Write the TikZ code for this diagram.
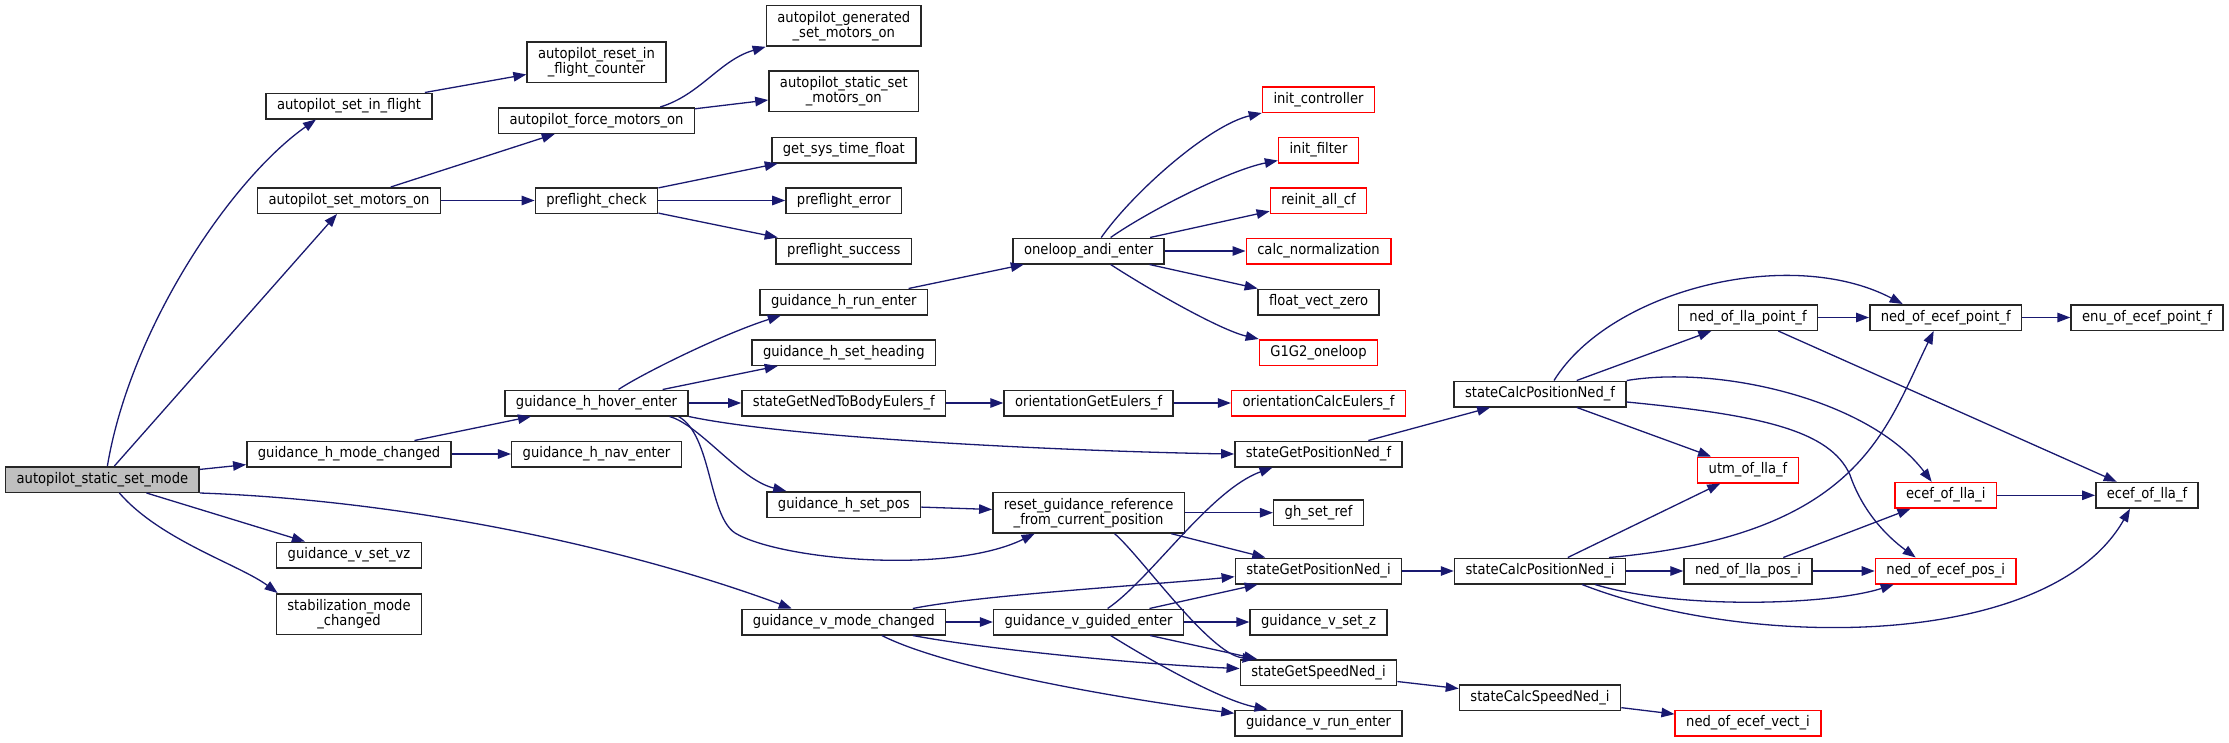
\documentclass[tikz,border=0pt]{standalone}
\usepackage{fontspec}
\setmainfont{DejaVu Sans}[FakeStretch=0.9]
\usetikzlibrary{arrows.meta}
\definecolor{edgeblue}{HTML}{191970}
\definecolor{rootgray}{HTML}{BFBFBF}
\tikzset{
  fn/.style={draw=black!85, line width=1.5pt, fill=white, inner xsep=11pt, inner ysep=2pt,
    minimum height=25.5pt, font=\fontsize{14.6}{15}\selectfont, text height=10.5pt, text depth=3.5pt},
  fn2/.style={fn, align=center, minimum height=40.5pt, text height=, text depth=},
  ext/.style={draw=red},
  root/.style={fill=rootgray},
  call/.style={draw=edgeblue, line width=1.3pt, -{Triangle[length=13pt,width=9.5pt]}},
}
\begin{document}
\begin{tikzpicture}[x=1pt,y=-1pt]
  \useasboundingbox (0,0) rectangle (2229,742);
  % callers
  \node[fn,root] (ssm) at (102.4,479.5) {autopilot\_static\_set\_mode};
  \node[fn] (sif) at (349,106) {autopilot\_set\_in\_flight};
  \node[fn] (smo) at (349,200.5) {autopilot\_set\_motors\_on};
  \node[fn] (hmc) at (349,454) {guidance\_h\_mode\_changed};
  \node[fn] (vsv) at (349,555) {guidance\_v\_set\_vz};
  \node[fn2] (smc) at (349,614) {stabilization\_mode\\\_changed};
  \node[fn2] (rif) at (596.5,62) {autopilot\_reset\_in\\\_flight\_counter};
  \node[fn] (fmo) at (596.5,120.5) {autopilot\_force\_motors\_on};
  \node[fn] (pfc) at (596.5,200.5) {preflight\_check};
  \node[fn] (hhe) at (596.5,403) {guidance\_h\_hover\_enter};
  \node[fn] (hne) at (596.5,454) {guidance\_h\_nav\_enter};
  \node[fn2] (gsm) at (843.8,25.8) {autopilot\_generated\\\_set\_motors\_on};
  \node[fn2] (ssmo) at (843.8,91) {autopilot\_static\_set\\\_motors\_on};
  \node[fn] (gst) at (843.8,150) {get\_sys\_time\_float};
  \node[fn] (pfe) at (843.8,200.5) {preflight\_error};
  \node[fn] (pfs) at (843.8,251) {preflight\_success};
  \node[fn] (hre) at (843.8,302) {guidance\_h\_run\_enter};
  \node[fn] (hsh) at (843.8,352.5) {guidance\_h\_set\_heading};
  \node[fn] (ntb) at (843.8,403) {stateGetNedToBodyEulers\_f};
  \node[fn] (hsp) at (843.8,504.5) {guidance\_h\_set\_pos};
  \node[fn] (vmc) at (843.8,622) {guidance\_v\_mode\_changed};
  \node[fn] (oae) at (1088.6,251) {oneloop\_andi\_enter};
  \node[fn] (oge) at (1088.6,403) {orientationGetEulers\_f};
  \node[fn2] (rgr) at (1088.6,512.7) {reset\_guidance\_reference\\\_from\_current\_position};
  \node[fn] (vge) at (1088.6,622) {guidance\_v\_guided\_enter};
  % callees
  \node[fn,ext] (ic) at (1318.5,99.5) {init\_controller};
  \node[fn,ext] (ifl) at (1318.5,150) {init\_filter};
  \node[fn,ext] (rac) at (1318.5,200.5) {reinit\_all\_cf};
  \node[fn,ext] (cn) at (1318.5,251) {calc\_normalization};
  \node[fn] (fvz) at (1318.5,302) {float\_vect\_zero};
  \node[fn,ext] (g1g2) at (1318.5,352.5) {G1G2\_oneloop};
  \node[fn,ext] (oce) at (1318.5,403) {orientationCalcEulers\_f};
  \node[fn] (gpf) at (1318.5,454) {stateGetPositionNed\_f};
  \node[fn] (gsr) at (1318.5,512.7) {gh\_set\_ref};
  \node[fn] (gpi) at (1318.5,571) {stateGetPositionNed\_i};
  \node[fn] (vsz) at (1318.5,622) {guidance\_v\_set\_z};
  \node[fn] (gsi) at (1318.5,672.5) {stateGetSpeedNed\_i};
  \node[fn] (vre) at (1318.5,723) {guidance\_v\_run\_enter};
  \node[fn] (cpf) at (1540,394) {stateCalcPositionNed\_f};
  \node[fn] (cpi) at (1540,571) {stateCalcPositionNed\_i};
  \node[fn] (csi) at (1540,697.8) {stateCalcSpeedNed\_i};
  \node[fn] (nlpf) at (1748,317.5) {ned\_of\_lla\_point\_f};
  \node[fn,ext] (utm) at (1748,470) {utm\_of\_lla\_f};
  \node[fn] (nlpi) at (1748,571) {ned\_of\_lla\_pos\_i};
  \node[fn,ext] (nev) at (1748,723) {ned\_of\_ecef\_vect\_i};
  \node[fn] (nepf) at (1945.7,317.5) {ned\_of\_ecef\_point\_f};
  \node[fn,ext] (eli) at (1945.7,495.3) {ecef\_of\_lla\_i};
  \node[fn,ext] (nepi) at (1945.7,571) {ned\_of\_ecef\_pos\_i};
  \node[fn] (eepf) at (2147,317.5) {enu\_of\_ecef\_point\_f};
  \node[fn] (elf) at (2147,495.3) {ecef\_of\_lla\_f};
  % straight calls
  \foreach \a/\b in {sif/rif, ssm/hmc, ssm/vsv, smo/fmo, smo/pfc, fmo/ssmo, pfc/gst, pfc/pfe,
      pfc/pfs, hmc/hhe, hmc/hne, hhe/hsh, hhe/ntb, hre/oae, oae/rac, oae/cn, oae/fvz, ntb/oge,
      oge/oce, hsp/rgr, rgr/gsr, rgr/gpi, vmc/vge, vge/gpi, vge/vsz, vge/gsi, gpf/cpf, gpi/cpi,
      gsi/csi, csi/nev, cpf/nlpf, cpf/utm, cpi/utm, cpi/nlpi, nlpf/nepf, nlpf/elf, nepf/eepf,
      nlpi/eli, nlpi/nepi, eli/elf}
    \draw[call] (\a) -- (\b);
  \draw[call] ([xshift=12pt]ssm.north) -- ([xshift=-12pt]smo.south);
  % curved calls
  \draw[call] ([xshift=5pt]ssm.north) .. controls (130,330) and (230,180) .. ([xshift=-33pt]sif.south);
  \draw[call] (ssm.south east) .. controls (400,500) and (620,545) .. ([xshift=-52pt]vmc.north);
  \draw[call] ([xshift=17pt]ssm.south) .. controls (160,540) and (240,565) .. ([xshift=2pt]smc.north west);
  \draw[call] ([xshift=-35pt]fmo.north east) .. controls (700,95) and (720,60) .. (gsm.south west);
  \draw[call] ([xshift=22pt]hhe.north) .. controls (640,375) and (720,335) .. ([xshift=-63pt]hre.south);
  \draw[call] (hhe.south east) .. controls (800,440) and (1100,452) .. (gpf.west);
  \draw[call] ([xshift=73pt]hhe.south) .. controls (700,425) and (740,480) .. ([xshift=20pt]hsp.north west);
  \draw[call] ([xshift=82pt]hhe.south) .. controls (712,435) and (708,515) .. (735,533)
    .. controls (780,560) and (950,575) .. ([xshift=-54pt]rgr.south);
  \draw[call] ([xshift=12.6pt]oae.north) .. controls (1135,190) and (1210,125) .. (ic.south west);
  \draw[call] ([xshift=22pt]oae.north) .. controls (1150,210) and (1230,170) .. ([yshift=3pt]ifl.south west);
  \draw[call] ([xshift=22pt]oae.south) .. controls (1150,290) and (1220,330) .. (g1g2.north west);
  \draw[call] ([xshift=26pt]rgr.south) .. controls (1140,555) and (1210,655) .. ([xshift=16pt]gsi.north west);
  \draw[call] ([xshift=69pt]vmc.north) .. controls (980,595) and (1150,585) .. ([yshift=-5.7pt]gpi.west);
  \draw[call] ([xshift=69pt]vmc.south) .. controls (990,650) and (1150,665) .. ([yshift=4pt]gsi.west);
  \draw[call] ([xshift=38pt]vmc.south) .. controls (950,670) and (1130,700) .. ([yshift=9.7pt]vre.west);
  \draw[call] ([xshift=19pt]vge.north) .. controls (1150,580) and (1210,490) .. ([xshift=-46pt]gpf.south);
  \draw[call] ([xshift=22pt]vge.south) .. controls (1150,660) and (1220,700) .. ([xshift=-51pt]vre.north);
  \draw[call] ([xshift=14pt]cpf.north) .. controls (1610,290) and (1790,245) .. ([xshift=-43pt]nepf.north);
  \draw[call] (cpf.north east) .. controls (1720,365) and (1870,400) .. ([xshift=-14pt]eli.north);
  \draw[call] ([yshift=-8pt]cpf.east) .. controls (1760,415) and (1830,430) .. (1850,475)
    .. controls (1862,510) and (1885,535) .. ([xshift=-30pt]nepi.north);
  \draw[call] ([xshift=69pt]cpi.north) .. controls (1860,535) and (1885,430) .. ([xshift=-12pt]nepf.south);
  \draw[call] ([xshift=55pt]cpi.south) .. controls (1680,610) and (1830,605) .. ([xshift=-52pt]nepi.south);
  \draw[call] ([xshift=42pt]cpi.south) .. controls (1750,650) and (2050,650) .. ([xshift=-17pt]elf.south);
\end{tikzpicture}
\end{document}
